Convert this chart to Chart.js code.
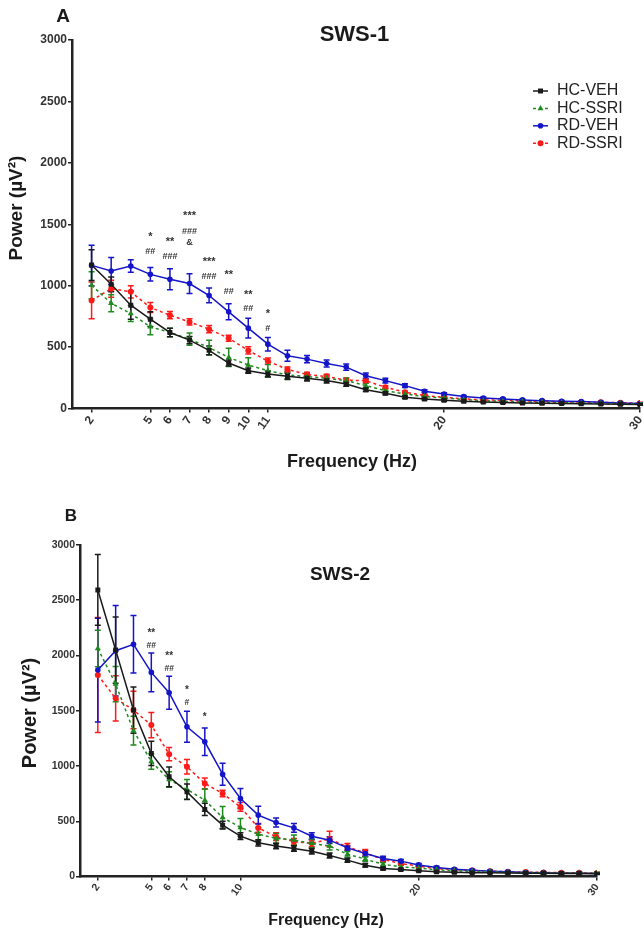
<!DOCTYPE html>
<html>
<head>
<meta charset="utf-8">
<script src="https://cdn.jsdelivr.net/npm/chart.js@4.4.0/dist/chart.umd.min.js"></script>
<style>
  body { margin: 0; background: #fff; }
  #wrapA { position: absolute; left: 0; top: 0; width: 644px; height: 480px; }
  #wrapB { position: absolute; left: 0; top: 490px; width: 644px; height: 444px; }
</style>
</head>
<body>
<div id="wrapA"><canvas id="chartA" width="644" height="480"></canvas></div>
<div id="wrapB"><canvas id="chartB" width="644" height="444"></canvas></div>
<script>
// frequencies (Hz), one point per Hz
const freqs = [2,3,4,5,6,7,8,9,10,11,12,13,14,15,16,17,18,19,20,21,22,23,24,25,26,27,28,29,30];
const groupNames = ['HC-VEH', 'HC-SSRI', 'RD-VEH', 'RD-SSRI'];

// --- SWS-1 (panel A) ---
const hcVehA   = [1168,1011,841,727,619,557,473,370,308,281,262,246,227,200,153,124,92,78,67,59,52,48,45,42,40,38,36,34,32];
const hcVehErrA = [125,60,115,60,35,30,35,25,22,25,25,22,20,18,15,12,10,8,8,7,6,6,6,6,6,6,6,6,6];
const hcSsriA  = [1003,857,773,665,619,565,495,416,354,308,273,259,246,227,186,145,118,97,86,72,64,58,54,50,47,44,42,40,38];
const hcSsriErrA = [110,70,65,65,35,50,60,75,60,50,30,28,25,22,20,18,15,12,10,8,8,7,7,7,6,6,6,6,6];
const rdVehA   = [1165,1120,1160,1092,1052,1017,920,787,654,524,429,402,366,337,267,227,186,140,118,97,86,78,70,64,59,56,51,45,40];
const rdVehErrA = [165,110,50,55,85,80,60,65,80,55,45,30,28,25,22,20,15,12,10,9,8,8,7,7,7,6,6,6,6];
const rdSsriA  = [880,975,950,822,760,705,646,572,473,386,318,277,260,231,226,173,132,105,92,78,70,66,62,58,55,52,50,47,44];
const rdSsriErrA = [150,70,50,40,30,25,30,25,30,25,20,18,18,15,15,12,10,8,8,6,6,6,6,6,6,6,6,6,6];
const xTicksA = [2,5,6,7,8,9,10,11,20,30];
const annotFreqA = [5,5,6,6,7,7,7,8,8,9,9,10,10,11,11];
const annotValA  = [1416,1282,1371,1241,1580,1444,1355,1209,1074,1106,949,944,814,787,652];
const annotTextA = ['*','##','**','###','***','###','&','***','###','**','##','**','##','*','#'];

// --- SWS-2 (panel B) ---
const hcVehB   = [2593,2049,1506,1114,902,766,607,465,365,305,276,253,229,190,148,102,72,63,51,42,38,35,33,31,30,29,28,27,26];
const hcVehErrB = [320,300,210,110,90,70,55,35,30,28,25,25,25,22,18,15,10,8,6,6,6,6,6,6,6,6,6,6,6];
const hcSsriB  = [2064,1741,1320,1040,878,788,691,534,444,383,345,330,300,275,202,157,111,87,78,60,52,46,42,38,36,34,32,31,30];
const hcSsriErrB = [165,160,130,70,70,90,100,100,80,60,45,45,40,35,25,20,15,12,10,8,8,8,8,8,8,8,8,8,8];
const rdVehB   = [1868,2043,2101,1847,1663,1355,1219,926,706,555,489,440,365,329,259,208,163,139,105,82,66,57,48,42,36,33,30,30,27];
const rdVehErrB = [470,410,260,175,150,140,125,100,90,80,40,40,30,30,20,25,20,15,12,10,8,8,8,8,8,8,8,8,8];
const rdSsriB  = [1823,1612,1506,1370,1107,993,842,751,630,440,360,315,300,340,268,214,154,118,93,72,62,55,48,44,40,37,35,33,31];
const rdSsriErrB = [520,205,170,115,60,65,50,30,40,40,35,30,30,70,30,30,15,12,10,8,8,8,8,8,8,8,8,8,8];
const xTicksB = [2,5,6,7,8,10,20,30];
const annotFreqB = [5,5,6,6,7,7,8];
const annotValB  = [2215,2088,2013,1884,1702,1572,1461];
const annotTextB = ['**','##','**','##','*','#','*'];

const yTicks = [0,500,1000,1500,2000,2500,3000];

const FONT = "'Liberation Sans', Arial, sans-serif";
const colors = ['#1a1a1a', '#1f8a1f', '#1414c8', '#ff1a1a'];
const dashes = [[], [3,3], [], [3,3]];
const pstyles = ['rect', 'triangle', 'circle', 'circle'];
const pradius = [3.5, 3.5, 2.8, 3];

function makeDatasets(series) {
  return series.map((vals, i) => ({
    label: groupNames[i],
    data: freqs.map((f, k) => ({ x: f, y: vals[k] })),
    borderColor: colors[i],
    backgroundColor: colors[i],
    borderWidth: 1.5,
    borderDash: dashes[i],
    pointStyle: pstyles[i],
    pointRadius: pradius[i],
    pointBorderWidth: 0,
    tension: 0
  }));
}

// error bars drawn with the chart's own scales
const errorBars = {
  id: 'errorBars',
  beforeDatasetsDraw(chart, args, opts) {
    const ctx = chart.ctx, xs = chart.scales.x, ys = chart.scales.y;
    ctx.save();
    for (let i = opts.errors.length - 1; i >= 0; i--) {
      const err = opts.errors[i];
      const vals = chart.data.datasets[i].data;
      ctx.strokeStyle = colors[i];
      ctx.lineWidth = 1.5;
      vals.forEach((p, k) => {
        const x = xs.getPixelForValue(p.x);
        const y1 = ys.getPixelForValue(p.y + err[k]);
        const y2 = ys.getPixelForValue(Math.max(0, p.y - err[k]));
        ctx.beginPath();
        ctx.moveTo(x, y1); ctx.lineTo(x, y2);
        ctx.moveTo(x - 3, y1); ctx.lineTo(x + 3, y1);
        ctx.moveTo(x - 3, y2); ctx.lineTo(x + 3, y2);
        ctx.stroke();
      });
    }
    ctx.restore();
  }
};

// significance marks, titles, legend
const decorations = {
  id: 'decorations',
  afterDraw(chart, args, opts) {
    const ctx = chart.ctx, xs = chart.scales.x, ys = chart.scales.y;
    ctx.save();
    ctx.textAlign = 'center';
    ctx.textBaseline = 'middle';
    ctx.fillStyle = '#333';
    opts.annotFreq.forEach((f, k) => {
      const t = opts.annotText[k];
      const star = t.indexOf('*') >= 0;
      ctx.font = 'bold ' + (star ? opts.starSize : opts.hashSize) + 'px ' + FONT;
      ctx.fillText(t, xs.getPixelForValue(f), ys.getPixelForValue(opts.annotVal[k]) + (star ? 2 : 0));
    });
    opts.texts.forEach(t => {
      ctx.save();
      ctx.font = t.font;
      ctx.fillStyle = '#1a1a1a';
      ctx.translate(t.x, t.y);
      if (t.rot) ctx.rotate(t.rot);
      ctx.fillText(t.text, 0, 0);
      ctx.restore();
    });
    if (opts.legend) {
      const L = opts.legend;
      chart.data.datasets.forEach((ds, i) => {
        const y = L.y + i * L.step;
        ctx.strokeStyle = colors[i];
        ctx.lineWidth = 1.5;
        ctx.setLineDash(dashes[i]);
        ctx.beginPath();
        ctx.moveTo(L.x, y); ctx.lineTo(L.x + 15, y);
        ctx.stroke();
        ctx.setLineDash([]);
        ctx.fillStyle = colors[i];
        Chart.helpers.drawPoint(ctx, { pointStyle: pstyles[i], radius: pradius[i], borderWidth: 0 }, L.x + 7.5, y);
        ctx.fillStyle = '#222';
        ctx.textAlign = 'left';
        ctx.font = '16px ' + FONT;
        ctx.fillText(groupNames[i], L.x + 24, y);
      });
    }
    ctx.restore();
  }
};

function makeChart(id, cfg) {
  const tickFont = { family: FONT, size: cfg.tickSize, weight: 'bold' };
  return new Chart(document.getElementById(id), {
    type: 'line',
    data: { datasets: makeDatasets(cfg.series) },
    plugins: [errorBars, decorations],
    options: {
      responsive: false,
      animation: false,
      layout: { padding: { top: cfg.top, right: cfg.right, left: 0, bottom: 0 } },
      plugins: {
        legend: { display: false },
        tooltip: { enabled: false },
        errorBars: { errors: cfg.errors },
        decorations: {
          annotFreq: cfg.annotFreq, annotVal: cfg.annotVal, annotText: cfg.annotText,
          starSize: cfg.starSize, hashSize: cfg.hashSize,
          texts: cfg.texts, legend: cfg.legend
        }
      },
      scales: {
        x: {
          type: 'linear', min: 1, max: 30,
          afterBuildTicks: s => { s.ticks = cfg.xTicks.map(v => ({ value: v })); },
          afterFit: s => { s.height = cfg.xHeight; s.paddingLeft = 0; s.paddingRight = 0; },
          ticks: { autoSkip: false, minRotation: 55, maxRotation: 55, font: tickFont, color: '#333', padding: 1,
                   callback: v => String(v) },
          grid: { drawOnChartArea: false, drawTicks: true, tickLength: 4, color: '#222', lineWidth: 1.5 },
          border: { color: '#222', width: 2.5 }
        },
        y: {
          min: 0, max: 3000,
          afterBuildTicks: s => { s.ticks = yTicks.map(v => ({ value: v })); },
          afterFit: s => { s.width = cfg.yWidth; s.paddingTop = 0; s.paddingBottom = 0; },
          ticks: { font: tickFont, color: '#333', padding: 1, callback: v => String(v) },
          grid: { drawOnChartArea: false, drawTicks: true, tickLength: 4, color: '#222', lineWidth: 1.5 },
          border: { color: '#222', width: 2.5 }
        }
      }
    }
  });
}

makeChart('chartA', {
  series: [hcVehA, hcSsriA, rdVehA, rdSsriA],
  errors: [hcVehErrA, hcSsriErrA, rdVehErrA, rdSsriErrA],
  xTicks: xTicksA, top: 40, right: 1, xHeight: 71.5, yWidth: 72, tickSize: 12,
  annotFreq: annotFreqA, annotVal: annotValA, annotText: annotTextA, starSize: 11, hashSize: 9,
  texts: [
    { text: 'A', x: 63, y: 17, font: 'bold 19px ' + FONT },
    { text: 'SWS-1', x: 354.5, y: 35, font: 'bold 22px ' + FONT },
    { text: 'Frequency (Hz)', x: 352, y: 462, font: 'bold 18px ' + FONT },
    { text: 'Power (\u00b5V\u00b2)', x: 17, y: 208, font: 'bold 19px ' + FONT, rot: -Math.PI / 2 }
  ],
  legend: { x: 533, y: 91, step: 17.4 }
});

makeChart('chartB', {
  series: [hcVehB, hcSsriB, rdVehB, rdSsriB],
  errors: [hcVehErrB, hcSsriErrB, rdVehErrB, rdSsriErrB],
  xTicks: xTicksB, top: 55, right: 47, xHeight: 57.5, yWidth: 80, tickSize: 10.5,
  annotFreq: annotFreqB, annotVal: annotValB, annotText: annotTextB, starSize: 10, hashSize: 8.5,
  texts: [
    { text: 'B', x: 71, y: 26, font: 'bold 17px ' + FONT },
    { text: 'SWS-2', x: 340, y: 85, font: 'bold 19px ' + FONT },
    { text: 'Frequency (Hz)', x: 326, y: 431, font: 'bold 16px ' + FONT },
    { text: 'Power (\u00b5V\u00b2)', x: 30, y: 223, font: 'bold 20px ' + FONT, rot: -Math.PI / 2 }
  ],
  legend: null
});
</script>
</body>
</html>
